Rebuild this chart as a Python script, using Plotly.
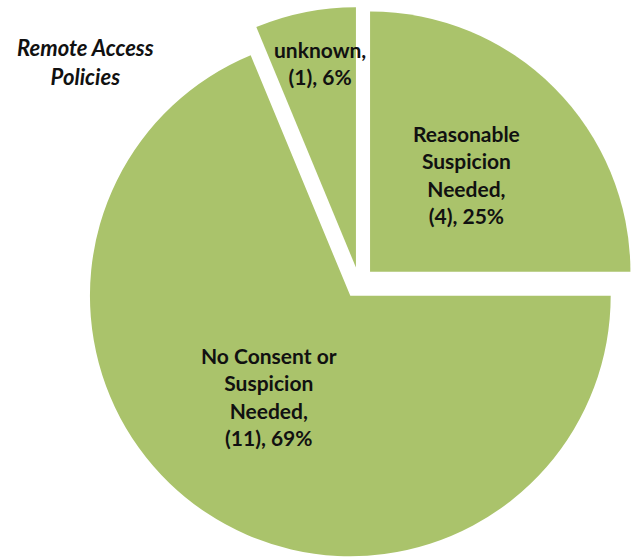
import plotly.graph_objects as go

labels = ["Reasonable<br>Suspicion<br>Needed", "No Consent or<br>Suspicion<br>Needed", "unknown"]
values = [4, 11, 1]
pulls = [0.06, 0.06, 0.06]
label_pos = [(466, 175), (269, 396), (320, 63)]  # pixel centres of labels

W, H = 635, 559
total = sum(values)

fig = go.Figure(go.Pie(
    labels=labels,
    values=values,
    sort=False,
    direction="clockwise",
    rotation=0,
    pull=pulls,
    marker=dict(colors=["#AAC36B"] * 3, line=dict(color="white", width=0)),
    textinfo="none",
    hoverinfo="none",
    showlegend=False,
    domain=dict(x=[83 / W, 1.0], y=[0.0, 0.988]),
))

for lab, val, (px, py) in zip(labels, values, label_pos):
    pct = round(100 * val / total)
    fig.add_annotation(
        x=px / W, y=1 - py / H, xref="paper", yref="paper",
        text=f"<b>{lab},<br>({val}), {pct}%</b>",
        showarrow=False, xanchor="center", yanchor="middle",
        font=dict(family="Lato", size=21, color="#111111"),
        align="center",
    )

fig.add_annotation(
    x=85 / W, y=1 - 62 / H, xref="paper", yref="paper",
    text="<b><i>Remote Access<br>Policies</i></b>",
    showarrow=False, xanchor="center", yanchor="middle",
    font=dict(family="Lato", size=22, color="#111111"),
    align="center",
)

fig.update_layout(
    width=W, height=H,
    margin=dict(l=0, r=0, t=0, b=0),
    paper_bgcolor="white", plot_bgcolor="white",
)

fig.write_html("out.html")
